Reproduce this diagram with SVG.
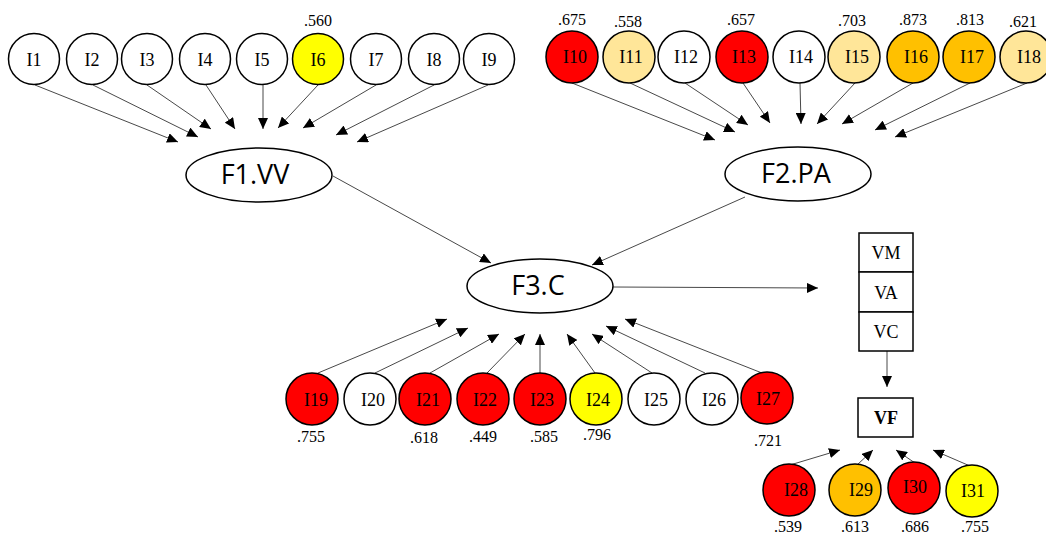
<svg xmlns="http://www.w3.org/2000/svg" width="1046" height="533" viewBox="0 0 1046 533">
  <style>
    .item { stroke: #000; stroke-width: 1.5; }
    .w { fill: #fff; }
    .r { fill: #ff0000; }
    .ly { fill: #ffe699; }
    .o { fill: #ffc000; }
    .y { fill: #ffff00; }
    .it { font-family: "Liberation Serif", "Times New Roman", serif; font-size: 18px; text-anchor: middle; fill: #000; }
    .val { font-family: "Liberation Serif", "Times New Roman", serif; font-size: 16px; text-anchor: middle; fill: #000; }
    .fac { fill: #fff; stroke: #000; stroke-width: 1.5; }
    .ft { font-family: "Open Sans", "Noto Sans", sans-serif; font-size: 27px; text-anchor: middle; fill: #000; }
    .box { fill: #fff; stroke: #000; stroke-width: 1.5; }
    .bt { font-family: "Liberation Serif", "Times New Roman", serif; font-size: 18px; text-anchor: middle; fill: #000; }
    .edge { stroke: #333; stroke-width: 0.9; fill: none; marker-end: url(#arrow); }
  </style>
  <defs>
    <marker id="arrow" markerUnits="userSpaceOnUse" markerWidth="12" markerHeight="10" refX="11" refY="5" orient="auto">
      <path d="M0,0 L11,5 L0,10 z" fill="#000"/>
    </marker>
  </defs>

  <rect width="1046" height="533" fill="#fff"/>

  <!-- connectors -->
  <g id="connectors">
    <!-- F1.VV indicators -->
    <line class="edge" x1="35" y1="85" x2="178" y2="142"/>
    <line class="edge" x1="93" y1="85" x2="198" y2="137"/>
    <line class="edge" x1="147" y1="85" x2="211" y2="129"/>
    <line class="edge" x1="206" y1="85" x2="235" y2="129"/>
    <line class="edge" x1="263" y1="85" x2="263" y2="129"/>
    <line class="edge" x1="318" y1="85" x2="278" y2="128"/>
    <line class="edge" x1="376" y1="85" x2="303" y2="128"/>
    <line class="edge" x1="434" y1="85" x2="336" y2="135"/>
    <line class="edge" x1="488" y1="85" x2="357" y2="142"/>
    <!-- F2.PA indicators -->
    <line class="edge" x1="572" y1="83" x2="715" y2="140"/>
    <line class="edge" x1="630" y1="83" x2="735" y2="132"/>
    <line class="edge" x1="685" y1="83" x2="748" y2="125"/>
    <line class="edge" x1="743" y1="83" x2="770" y2="123"/>
    <line class="edge" x1="800" y1="83" x2="801" y2="124"/>
    <line class="edge" x1="855" y1="83" x2="817" y2="124"/>
    <line class="edge" x1="913" y1="83" x2="842" y2="124"/>
    <line class="edge" x1="970" y1="83" x2="875" y2="130"/>
    <line class="edge" x1="1027" y1="83" x2="895" y2="137"/>
    <!-- structural paths -->
    <line class="edge" x1="333" y1="176" x2="491" y2="263"/>
    <line class="edge" x1="745" y1="197" x2="592" y2="265"/>
    <line class="edge" x1="613" y1="287" x2="818" y2="288"/>
    <line class="edge" x1="887" y1="351" x2="887" y2="387"/>
    <!-- F3.C indicators -->
    <line class="edge" x1="318" y1="373" x2="447" y2="319"/>
    <line class="edge" x1="375" y1="373" x2="468" y2="328"/>
    <line class="edge" x1="430" y1="373" x2="499" y2="334"/>
    <line class="edge" x1="487" y1="373" x2="525" y2="334"/>
    <line class="edge" x1="540" y1="373" x2="540" y2="334"/>
    <line class="edge" x1="595" y1="373" x2="567" y2="334"/>
    <line class="edge" x1="652" y1="373" x2="592" y2="334"/>
    <line class="edge" x1="705" y1="373" x2="606" y2="326"/>
    <line class="edge" x1="762" y1="373" x2="625" y2="319"/>
    <!-- VF indicators -->
    <line class="edge" x1="790" y1="465" x2="840" y2="450"/>
    <line class="edge" x1="857" y1="465" x2="873" y2="450"/>
    <line class="edge" x1="915" y1="463" x2="896" y2="450"/>
    <line class="edge" x1="970" y1="466" x2="933" y2="450"/>
  </g>

  <!-- top-left indicators -->
  <g id="I1"><circle class="item w" cx="34" cy="59" r="25.5"/><text class="it" x="34" y="66">I1</text></g>
  <g id="I2"><circle class="item w" cx="92" cy="59" r="25.5"/><text class="it" x="92" y="66">I2</text></g>
  <g id="I3"><circle class="item w" cx="147" cy="59" r="25.5"/><text class="it" x="147" y="66">I3</text></g>
  <g id="I4"><circle class="item w" cx="205" cy="59" r="25.5"/><text class="it" x="205" y="66">I4</text></g>
  <g id="I5"><circle class="item w" cx="262" cy="59" r="25.5"/><text class="it" x="262" y="66">I5</text></g>
  <g id="I6"><circle class="item y" cx="318" cy="59" r="25.5"/><text class="it" x="318" y="66">I6</text><text class="val" x="318" y="26">.560</text></g>
  <g id="I7"><circle class="item w" cx="376" cy="59" r="25.5"/><text class="it" x="376" y="66">I7</text></g>
  <g id="I8"><circle class="item w" cx="434" cy="59" r="25.5"/><text class="it" x="434" y="66">I8</text></g>
  <g id="I9"><circle class="item w" cx="489" cy="59" r="25.5"/><text class="it" x="489" y="66">I9</text></g>

  <!-- top-right indicators -->
  <g id="I10"><circle class="item r" cx="572" cy="57" r="26"/><text class="it" x="575" y="63">I10</text><text class="val" x="572" y="25">.675</text></g>
  <g id="I11"><circle class="item ly" cx="629" cy="57" r="26"/><text class="it" x="631" y="63">I11</text><text class="val" x="628" y="27">.558</text></g>
  <g id="I12"><circle class="item w" cx="684" cy="57" r="26"/><text class="it" x="686" y="63">I12</text></g>
  <g id="I13"><circle class="item r" cx="742" cy="57" r="26"/><text class="it" x="744" y="63">I13</text><text class="val" x="741" y="25">.657</text></g>
  <g id="I14"><circle class="item w" cx="799" cy="57" r="26"/><text class="it" x="801" y="63">I14</text></g>
  <g id="I15"><circle class="item ly" cx="854" cy="57" r="26"/><text class="it" x="857" y="63">I15</text><text class="val" x="852" y="26">.703</text></g>
  <g id="I16"><circle class="item o" cx="913" cy="57" r="26"/><text class="it" x="916" y="63">I16</text><text class="val" x="913" y="25">.873</text></g>
  <g id="I17"><circle class="item o" cx="969" cy="57" r="26"/><text class="it" x="972" y="63">I17</text><text class="val" x="970" y="25">.813</text></g>
  <g id="I18"><circle class="item ly" cx="1026" cy="57" r="26"/><text class="it" x="1029" y="63">I18</text><text class="val" x="1023" y="27">.621</text></g>

  <!-- factors -->
  <g id="F1VV"><ellipse class="fac" cx="259" cy="175" rx="73" ry="27"/><text class="ft" x="255" y="184">F1.VV</text></g>
  <g id="F2PA"><ellipse class="fac" cx="798" cy="174" rx="73" ry="27"/><text class="ft" x="796" y="183">F2.PA</text></g>
  <g id="F3C"><ellipse class="fac" cx="540" cy="286" rx="73" ry="27"/><text class="ft" x="538" y="295">F3.C</text></g>

  <!-- outcome boxes -->
  <g id="VMVAVC">
    <rect class="box" x="859" y="233" width="54" height="39"/>
    <rect class="box" x="859" y="272" width="54" height="40"/>
    <rect class="box" x="859" y="312" width="54" height="39"/>
    <text class="bt" x="886" y="259">VM</text>
    <text class="bt" x="886" y="299">VA</text>
    <text class="bt" x="886" y="338">VC</text>
  </g>
  <g id="VF">
    <rect class="box" x="858" y="398" width="55" height="39"/>
    <text class="bt" x="886" y="424" font-weight="bold">VF</text>
  </g>

  <!-- bottom indicators -->
  <g id="I19"><circle class="item r" cx="312" cy="399" r="26"/><text class="it" x="316" y="406">I19</text><text class="val" x="311" y="442">.755</text></g>
  <g id="I20"><circle class="item w" cx="370" cy="399" r="26"/><text class="it" x="373" y="406">I20</text></g>
  <g id="I21"><circle class="item r" cx="425" cy="399" r="26"/><text class="it" x="428" y="406">I21</text><text class="val" x="424" y="443">.618</text></g>
  <g id="I22"><circle class="item r" cx="483" cy="399" r="26"/><text class="it" x="485" y="406">I22</text><text class="val" x="483" y="442">.449</text></g>
  <g id="I23"><circle class="item r" cx="540" cy="399" r="26"/><text class="it" x="542" y="406">I23</text><text class="val" x="544" y="442">.585</text></g>
  <g id="I24"><circle class="item y" cx="596" cy="399" r="26"/><text class="it" x="598" y="406">I24</text><text class="val" x="597" y="440">.796</text></g>
  <g id="I25"><circle class="item w" cx="654" cy="399" r="26"/><text class="it" x="656" y="406">I25</text></g>
  <g id="I26"><circle class="item w" cx="712" cy="399" r="26"/><text class="it" x="714" y="406">I26</text></g>
  <g id="I27"><circle class="item r" cx="767" cy="398" r="26"/><text class="it" x="768" y="405">I27</text><text class="val" x="768" y="446">.721</text></g>

  <!-- VF indicators -->
  <g id="I28"><circle class="item r" cx="789" cy="490" r="26"/><text class="it" x="796" y="496">I28</text><text class="val" x="788" y="532">.539</text></g>
  <g id="I29"><circle class="item o" cx="855" cy="490" r="26"/><text class="it" x="861" y="496">I29</text><text class="val" x="855" y="532">.613</text></g>
  <g id="I30"><circle class="item r" cx="914" cy="488" r="26"/><text class="it" x="915" y="493">I30</text><text class="val" x="915" y="532">.686</text></g>
  <g id="I31"><circle class="item y" cx="972" cy="491" r="26"/><text class="it" x="973" y="497">I31</text><text class="val" x="975" y="532">.755</text></g>
</svg>
